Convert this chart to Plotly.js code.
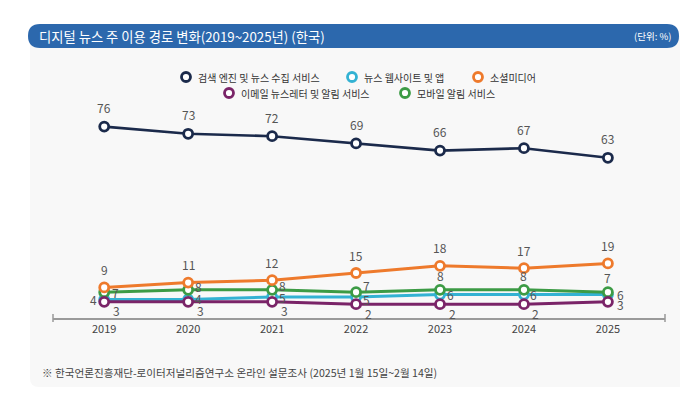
<!DOCTYPE html>
<html>
<head>
<meta charset="utf-8">
<script src="https://cdn.plot.ly/plotly-3.0.1.min.js"></script>
<style>
html,body{margin:0;padding:0;background:#ffffff;}
#chart{width:680px;height:396px;}
</style>
</head>
<body>
<div id="chart"></div>
<script>
// ---- data ----
const years = [2019, 2020, 2021, 2022, 2023, 2024, 2025];
const seriesNames = ["검색 엔진 및 뉴스 수집 서비스", "뉴스 웹사이트 및 앱", "소셜미디어", "이메일 뉴스레터 및 알림 서비스", "모바일 알림 서비스"];
const searchEngine = [76, 73, 72, 69, 66, 67, 63];
const newsSites = [4, 4, 5, 5, 6, 6, 6];
const socialMedia = [9, 11, 12, 15, 18, 17, 19];
const newsletter = [3, 3, 3, 2, 2, 2, 3];
const mobileAlerts = [7, 8, 8, 7, 8, 8, 7];
const titleText = "디지털 뉴스 주 이용 경로 변화(2019~2025년) (한국)";
const unitText = "(단위: %)";
const noteText = "※ 한국언론진흥재단-로이터저널리즘연구소 온라인 설문조사 (2025년 1월 15일~2월 14일)";

// ---- style ----
const FONT = '"Noto Sans CJK KR", "Noto Sans", sans-serif';
const W = 680, H = 396;
const M = {l: 53, r: 15, t: 100, b: 78};
const PW = W - M.l - M.r, PH = H - M.t - M.b;
const px = x => (x - M.l) / PW;
const py = y => (H - M.b - y) / PH;

const colors = {
  search: '#1b2a4b', sites: '#33b2d3', social: '#ee7a2c', letter: '#7a2468', mobile: '#3c9b45'
};

const series = [
  {key: 'sites', name: seriesNames[1], y: newsSites,
   off: [[-11,0],[10,1],[10,0],[10,-2],[10,0],[10,0],[13,0]]},
  {key: 'mobile', name: seriesNames[4], y: mobileAlerts,
   off: [[11,0],[10,3],[10,4],[10,7],[0,14],[0,14],[0,15]]},
  {key: 'social', name: seriesNames[2], y: socialMedia,
   off: [[0,18],[0,18],[0,18],[0,18],[0,18],[0,18],[0,18]]},
  {key: 'letter', name: seriesNames[3], y: newsletter,
   off: [[12,-9],[12,-9],[12,-9],[12,-9],[12,-9],[12,-9],[13,-3]]},
  {key: 'search', name: seriesNames[0], y: searchEngine,
   off: [[0,19],[0,19],[0,19],[0,19],[0,19],[0,19],[0,19]]}
];

const traces = series.map(s => ({
  x: years, y: s.y, name: s.name, type: 'scatter', mode: 'lines+markers',
  line: {color: colors[s.key], width: s.key === 'search' ? 2.6 : 3},
  marker: {symbol: 'circle', size: 9, color: '#ffffff', line: {color: colors[s.key], width: 2.8}},
  cliponaxis: false, hoverinfo: 'skip', showlegend: false
}));

const annotations = [];
series.forEach(s => {
  years.forEach((yr, i) => {
    annotations.push({
      x: yr, y: s.y[i], xref: 'x', yref: 'y', text: String(s.y[i]), showarrow: false,
      xshift: s.off[i][0], yshift: s.off[i][1], xanchor: 'center', yanchor: 'middle',
      font: {family: FONT, size: 12, color: '#555555'}
    });
  });
});

// custom legend
const legendItems = [
  {key: 'search', name: seriesNames[0], x: 186, y: 77},
  {key: 'sites', name: seriesNames[1], x: 352, y: 77},
  {key: 'social', name: seriesNames[2], x: 478, y: 77},
  {key: 'letter', name: seriesNames[3], x: 229, y: 93},
  {key: 'mobile', name: seriesNames[4], x: 405, y: 93}
];
const shapes = [];

function roundRect(x0, y0, x1, y1, rtl, rtr, rbr, rbl) {
  const P = (x, y) => px(x).toFixed(5) + ',' + py(y).toFixed(5);
  return 'M ' + P(x0 + rtl, y0) +
    ' L ' + P(x1 - rtr, y0) + ' Q ' + P(x1, y0) + ' ' + P(x1, y0 + rtr) +
    ' L ' + P(x1, y1 - rbr) + ' Q ' + P(x1, y1) + ' ' + P(x1 - rbr, y1) +
    ' L ' + P(x0 + rbl, y1) + ' Q ' + P(x0, y1) + ' ' + P(x0, y1 - rbl) +
    ' L ' + P(x0, y0 + rtl) + ' Q ' + P(x0, y0) + ' ' + P(x0 + rtl, y0) + ' Z';
}
// panel
shapes.push({type: 'path', xref: 'paper', yref: 'paper', layer: 'below',
  path: roundRect(30, 36, 682, 387, 0, 0, 0, 9),
  fillcolor: '#f8f8f8', line: {width: 0}});
// banner
shapes.push({type: 'path', xref: 'paper', yref: 'paper', layer: 'below',
  path: roundRect(28, 24, 679, 48, 12, 12, 12, 12),
  fillcolor: '#2c68ad', line: {width: 0}});
// axis end ticks
[0, 1].forEach(xv => shapes.push({type: 'line', xref: 'paper', yref: 'paper',
  x0: xv, x1: xv, y0: py(314), y1: py(322), line: {color: '#9a9a9a', width: 1.5}}));

legendItems.forEach(it => {
  shapes.push({type: 'circle', xref: 'paper', yref: 'paper', xsizemode: 'pixel', ysizemode: 'pixel',
    xanchor: px(it.x), yanchor: py(it.y), x0: -4.5, x1: 4.5, y0: -4.5, y1: 4.5,
    fillcolor: '#ffffff', line: {color: colors[it.key], width: 2.8}});
  annotations.push({xref: 'paper', yref: 'paper', x: px(it.x + 10), y: py(it.y),
    xanchor: 'left', yanchor: 'middle', showarrow: false, text: it.name,
    font: {family: FONT, size: 10, color: '#333333'}});
});

annotations.push({xref: 'paper', yref: 'paper', x: px(37), y: py(36), xanchor: 'left', yanchor: 'middle',
  showarrow: false, text: titleText, font: {family: FONT, size: 13.3, color: '#ffffff'}});
annotations.push({xref: 'paper', yref: 'paper', x: px(673), y: py(36), xanchor: 'right', yanchor: 'middle',
  showarrow: false, text: unitText, font: {family: FONT, size: 9.5, color: '#ffffff'}});
annotations.push({xref: 'paper', yref: 'paper', x: px(40), y: py(372), xanchor: 'left', yanchor: 'middle',
  showarrow: false, text: noteText, font: {family: FONT, size: 10.6, color: '#444444'}});

const layout = {
  width: W, height: H, margin: M,
  paper_bgcolor: '#ffffff', plot_bgcolor: 'rgba(0,0,0,0)',
  font: {family: FONT},
  showlegend: false,
  xaxis: {range: [2018.39, 2025.68], tickvals: years, ticktext: years.map(String),
    showgrid: false, zeroline: false, showline: true, linecolor: '#9a9a9a', linewidth: 2,
    ticks: '', tickfont: {family: FONT, size: 11, color: '#444444'}, fixedrange: true},
  yaxis: {range: [-3.75, 87.08], visible: false, fixedrange: true},
  shapes: shapes, annotations: annotations
};

Plotly.newPlot('chart', traces, layout, {displayModeBar: false, staticPlot: true});
</script>
</body>
</html>
